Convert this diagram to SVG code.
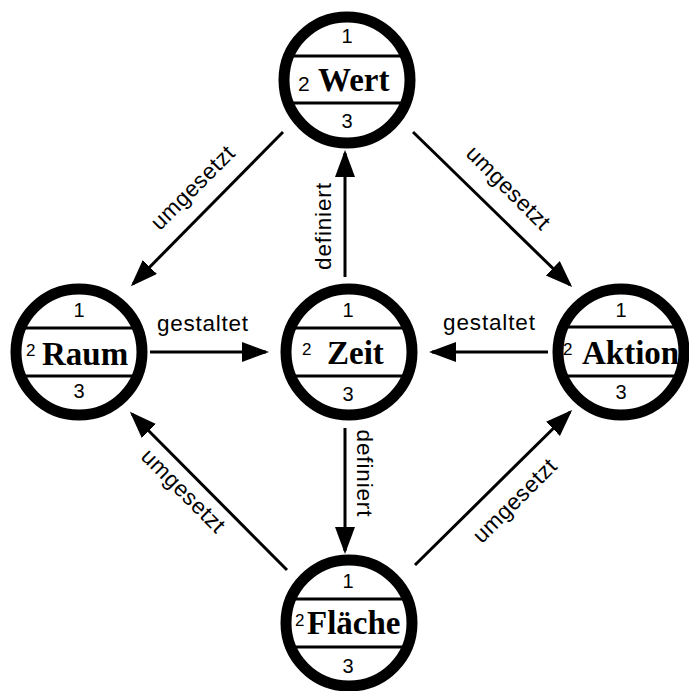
<svg xmlns="http://www.w3.org/2000/svg" width="689" height="691" viewBox="0 0 689 691">
  <style>
    .disc { fill: #fff; }
    .ring { fill: none; stroke: #000; stroke-width: 11; }
    .bar { stroke: #000; stroke-width: 2.8; }
    .num { font-family: "Liberation Sans", Arial, sans-serif; font-size: 20px; fill: #000; text-anchor: middle; }
    .sup { font-family: "Liberation Sans", Arial, sans-serif; font-size: 17px; fill: #000; }
    .name { font-family: "Liberation Serif", "Times New Roman", serif; font-weight: bold; font-size: 33px; fill: #000; }
    .edge { fill: none; stroke: #000; stroke-width: 3; marker-end: url(#head); }
    .lbl { font-family: "Liberation Sans", Arial, sans-serif; font-size: 22.5px; fill: #000; text-anchor: middle; }
  </style>
  <defs>
    <marker id="head" markerUnits="userSpaceOnUse" markerWidth="28" markerHeight="22" refX="24" refY="10" orient="auto">
      <path d="M0,0 L27,10 L0,20 z" fill="#000"/>
    </marker>
  </defs>
  <rect width="689" height="691" fill="#fff"/>

  <!-- connectors -->
  <g id="connectors">
    <line class="edge" x1="283" y1="132" x2="133" y2="284"/>
    <line class="edge" x1="413" y1="132" x2="570" y2="285"/>
    <line class="edge" x1="150" y1="352" x2="266" y2="352"/>
    <line class="edge" x1="548" y1="352" x2="432" y2="352"/>
    <line class="edge" x1="345" y1="277" x2="345" y2="153"/>
    <line class="edge" x1="345" y1="428" x2="345" y2="551"/>
    <line class="edge" x1="287" y1="570" x2="132" y2="414"/>
    <line class="edge" x1="415" y1="565" x2="570" y2="412"/>

    <text class="lbl" textLength="91" transform="translate(202.5,331)">gestaltet</text>
    <text class="lbl" textLength="92" transform="translate(489,330)">gestaltet</text>
    <text class="lbl" textLength="87" transform="translate(331,226.5) rotate(-90)">definiert</text>
    <text class="lbl" textLength="87" transform="translate(357,473) rotate(90)">definiert</text>
    <text class="lbl" textLength="108" transform="translate(198,193) rotate(-45)">umgesetzt</text>
    <text class="lbl" textLength="108" transform="translate(503,193) rotate(45)">umgesetzt</text>
    <text class="lbl" textLength="108" transform="translate(178,496) rotate(45)">umgesetzt</text>
    <text class="lbl" textLength="108" transform="translate(520,506) rotate(-45)">umgesetzt</text>
  </g>

  <!-- nodes -->
  <g id="wert">
    <circle class="disc" cx="347" cy="80" r="63"/>
    <line class="bar" x1="285" y1="56" x2="409" y2="56"/>
    <line class="bar" x1="285" y1="103" x2="409" y2="103"/>
    <circle class="ring" cx="347" cy="80" r="63"/>
    <text class="num" x="347" y="43">1</text>
    <text class="sup" x="298" y="91" style="font-size:21px">2</text>
    <text class="name" x="318" y="91">Wert</text>
    <text class="num" x="347" y="128">3</text>
  </g>

  <g id="raum">
    <circle class="disc" cx="79" cy="352" r="63"/>
    <line class="bar" x1="17" y1="328" x2="141" y2="328"/>
    <line class="bar" x1="17" y1="376" x2="141" y2="376"/>
    <circle class="ring" cx="79" cy="352" r="63"/>
    <text class="num" x="79" y="317">1</text>
    <text class="sup" x="26" y="356">2</text>
    <text class="name" x="42" y="365">Raum</text>
    <text class="num" x="79" y="398">3</text>
  </g>

  <g id="zeit">
    <circle class="disc" cx="349" cy="352" r="63"/>
    <line class="bar" x1="287" y1="328" x2="411" y2="328"/>
    <line class="bar" x1="287" y1="376" x2="411" y2="376"/>
    <circle class="ring" cx="349" cy="352" r="63"/>
    <text class="num" x="348" y="317">1</text>
    <text class="sup" x="302" y="355">2</text>
    <text class="name" x="327" y="364">Zeit</text>
    <text class="num" x="348" y="401">3</text>
  </g>

  <g id="aktion">
    <circle class="disc" cx="621" cy="352" r="63"/>
    <line class="bar" x1="559" y1="327" x2="683" y2="327"/>
    <line class="bar" x1="559" y1="376" x2="683" y2="376"/>
    <circle class="ring" cx="621" cy="352" r="63"/>
    <text class="num" x="621" y="317">1</text>
    <text class="sup" x="563" y="355">2</text>
    <text class="name" x="582" y="364">Aktion</text>
    <text class="num" x="621" y="399">3</text>
  </g>

  <g id="flaeche">
    <circle class="disc" cx="349" cy="623" r="63"/>
    <line class="bar" x1="287" y1="599" x2="411" y2="599"/>
    <line class="bar" x1="287" y1="647" x2="411" y2="647"/>
    <circle class="ring" cx="349" cy="623" r="63"/>
    <text class="num" x="348" y="588">1</text>
    <text class="sup" x="295" y="626">2</text>
    <text class="name" x="307" y="634">Fläche</text>
    <text class="num" x="348" y="673">3</text>
  </g>
</svg>
